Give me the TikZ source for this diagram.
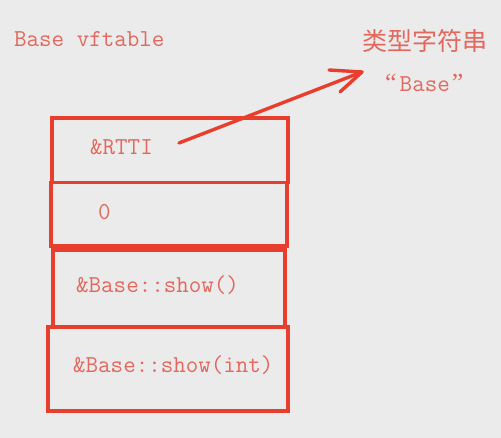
\documentclass[tikz,border=0pt]{standalone}
\usepackage{fontspec}
\newfontfamily\monof{Latin Modern Mono}
\newfontfamily\cjkf{Noto Sans CJK SC}
\newfontfamily\quotef{Liberation Serif}
\definecolor{bg}{RGB}{235,235,235}
\definecolor{txtred}{RGB}{226,104,94}
\definecolor{linered}{RGB}{232,62,46}
\begin{document}
\begin{tikzpicture}[x=1pt,y=-1pt,
  lbl/.style={anchor=base west,inner sep=0pt,text=txtred,font=\monof\fontsize{24.3}{28}\selectfont},
  cjk/.style={anchor=base west,inner sep=0pt,text=txtred,font=\cjkf\fontsize{25}{28}\selectfont},
  frame/.style={draw=linered,line width=3.6pt},
  arr/.style={draw=linered,line width=3.4pt,line cap=round}]
\fill[bg] (0,0) rectangle (501,438);
\useasboundingbox (0,0) rectangle (501,438);

% table rows
\draw[frame] (52,118) rectangle (288,182.5);
\draw[frame] (51,182.5) rectangle (287,246);
\draw[frame] (53,250) rectangle (285,327);
\draw[frame] (48,327) rectangle (288,411);

% labels
\node[lbl] (title) at (14,47) {Base vftable};
\node[lbl] (rtti) at (90,155) {\&RTTI};
\node[lbl] (zero) at (98,220) {0};
\node[lbl] (show) at (76,293) {\&Base::show()};
\node[lbl] (showint) at (73,373) {\&Base::show(int)};
\node[cjk] (typestr) at (362,51) {类型字符串};
\node[lbl] (basestr) at (385,92) {{\quotef\fontsize{26}{28}\selectfont “}\hspace{3pt}Base\hspace{2pt}{\quotef\fontsize{26}{28}\selectfont ”}};

% arrow
\coordinate (a0) at (179,143);
\coordinate (a1) at (362,72);
\draw[arr] (a0) -- (a1);
\draw[arr] (a1) -- ++(-33,-2);
\draw[arr] (a1) -- ++(-22,20);
\end{tikzpicture}
\end{document}
